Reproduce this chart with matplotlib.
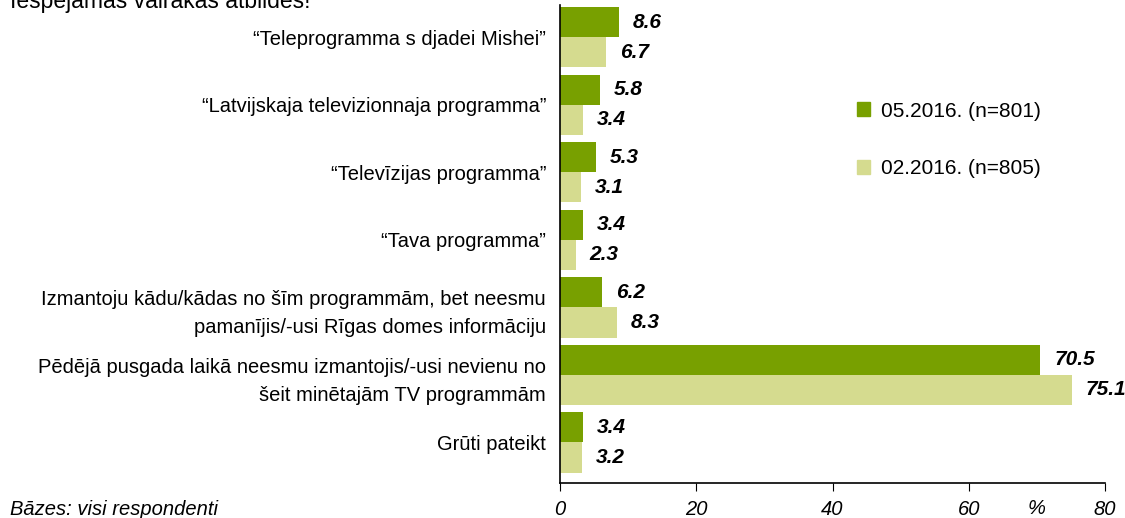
import matplotlib
matplotlib.use('Agg')
import matplotlib.pyplot as plt
import matplotlib.patches as mpatches
import numpy as np

plt.rcParams['font.family'] = ['Liberation Sans', 'DejaVu Sans']

# ── Data ──────────────────────────────────────────────────────────────────────
categories = [
    '“Teleprogramma s djadei Mishei”',
    '“Latvijskaja televizionnaja programma”',
    '“Televīzijas programma”',
    '“Tava programma”',
    'Izmantoju kādu/kādas no šīm programmām, bet neesmu\npamanījis/-usi Rīgas domes informāciju',
    'Pēdējā pusgada laikā neesmu izmantojis/-usi nevienu no\nšeit minētajām TV programmām',
    'Grūti pateikt',
]
may_2016 = [8.6, 5.8, 5.3, 3.4, 6.2, 70.5, 3.4]
feb_2016 = [6.7, 3.4, 3.1, 2.3, 8.3, 75.1, 3.2]
series_labels = ['05.2016. (n=801)', '02.2016. (n=805)']
x_ticks = [0, 20, 40, 60, 80]

DARK = '#78A000'
LIGHT = '#D5DB8F'
FS = 14.5

# ── Figure ────────────────────────────────────────────────────────────────────
fig = plt.figure(figsize=(11.25, 5.18), dpi=100)
ax = fig.add_axes([560 / 1125, 1 - 483 / 518, (1105 - 560) / 1125, (483 - 5) / 518])

y = np.arange(len(categories))
h = 0.445
ax.barh(y - h / 2, may_2016, height=h, color=DARK, label=series_labels[0])
ax.barh(y + h / 2, feb_2016, height=h, color=LIGHT, label=series_labels[1])

for yi, v in zip(y, may_2016):
    ax.annotate(f'{v:.1f}', (v, yi - h / 2), xytext=(10, 0), textcoords='offset points',
                va='center', ha='left', fontsize=15, fontweight='bold', style='italic')
for yi, v in zip(y, feb_2016):
    ax.annotate(f'{v:.1f}', (v, yi + h / 2), xytext=(10, 0), textcoords='offset points',
                va='center', ha='left', fontsize=15, fontweight='bold', style='italic')

ax.set_xlim(0, 80)
ax.set_ylim(6.6, -0.48)
ax.set_xticks(x_ticks)
ax.set_xticklabels([str(t) for t in x_ticks], style='italic', fontsize=FS)
ax.tick_params(axis='x', direction='out', length=6, pad=6, width=0.8)
ax.set_yticks(y)
ax.set_yticklabels(categories, fontsize=FS, ha='right', linespacing=1.6)
ax.tick_params(axis='y', length=0, pad=10)
for s in ['top', 'right']:
    ax.spines[s].set_visible(False)
ax.spines['left'].set_linewidth(1.2)
ax.spines['bottom'].set_linewidth(1.2)

# percent sign sits on the tick-label row between 60 and 80
ax.text(70, -25 / 478, '%', transform=ax.get_xaxis_transform(), ha='center', va='center',
        fontsize=FS, style='italic')

handles = [mpatches.Patch(color=DARK), mpatches.Patch(color=LIGHT)]
fig.legend(handles, series_labels, loc='upper left', bbox_to_anchor=(838 / 1125, 1 - 83 / 518),
           frameon=False, fontsize=15, handlelength=0.65, handleheight=0.65,
           labelspacing=1.85, handletextpad=0.5)

fig.text(10 / 1125, 1 - 8 / 518, 'Iespējamas vairākas atbildes!', fontsize=16.5,
         ha='left', va='baseline')
fig.text(10 / 1125, 1 - 515 / 518, 'Bāzes: visi respondenti', fontsize=FS,
         style='italic', ha='left', va='baseline')

fig.savefig('out.png', dpi=100)
